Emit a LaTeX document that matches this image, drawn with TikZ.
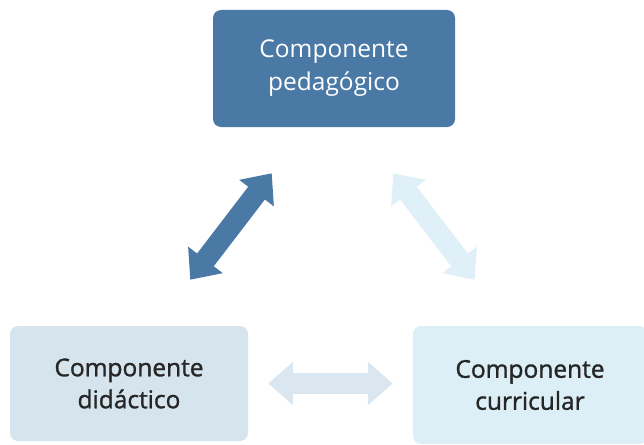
\documentclass[tikz,border=0pt]{standalone}
\usepackage{fontspec}
\setmainfont{Open Sans}
\newfontfamily\semib[FakeBold=1.2]{Open Sans}
\usepackage{xcolor}
\usetikzlibrary{arrows.meta}
\definecolor{pedblue}{HTML}{4A79A6}
\definecolor{didblue}{HTML}{D6E4EE}
\definecolor{curblue}{HTML}{DCEEF6}
\definecolor{arrcur}{HTML}{DFF0F8}
\definecolor{arrdid}{HTML}{DAE7F0}
\tikzstyle{comp}=[rectangle, rounded corners=8pt, align=center, text=black!85, font=\semib\fontsize{24.5}{32}\selectfont]
\tikzstyle{bigarrow}=[line width=21pt, {Triangle[length=25pt,width=42pt]}-{Triangle[length=25pt,width=42pt]}]

\begin{document}
\begin{tikzpicture}[x=1pt, y=-1pt]
    \useasboundingbox (0,0) rectangle (644,444);
    % the three components
    \node[comp, fill=pedblue, text=white, font=\rmfamily\fontsize{24.5}{33}\selectfont, minimum width=242pt, minimum height=117pt] (ped) at (334,68.5) {Componente\\pedagógico};
    \node[comp, fill=didblue, minimum width=238pt, minimum height=115pt] (did) at (129,383.5) {Componente\\didáctico};
    \node[comp, fill=curblue, minimum width=234pt, minimum height=118pt] (cur) at (530,385) {Componente\\curricular};
    % arrows between them
    \draw[bigarrow, pedblue, shorten <=58pt, shorten >=58pt] ([xshift=-27pt]ped.south) -- ([xshift=26pt]did.north);
    \draw[bigarrow, arrcur, shorten <=58pt, shorten >=58pt] ([xshift=24pt]ped.south) -- ([xshift=-20pt]cur.north);
    \draw[bigarrow, arrdid, shorten <=20pt, shorten >=20pt] (did.east) -- (did.east -| cur.west);
\end{tikzpicture}
\end{document}
